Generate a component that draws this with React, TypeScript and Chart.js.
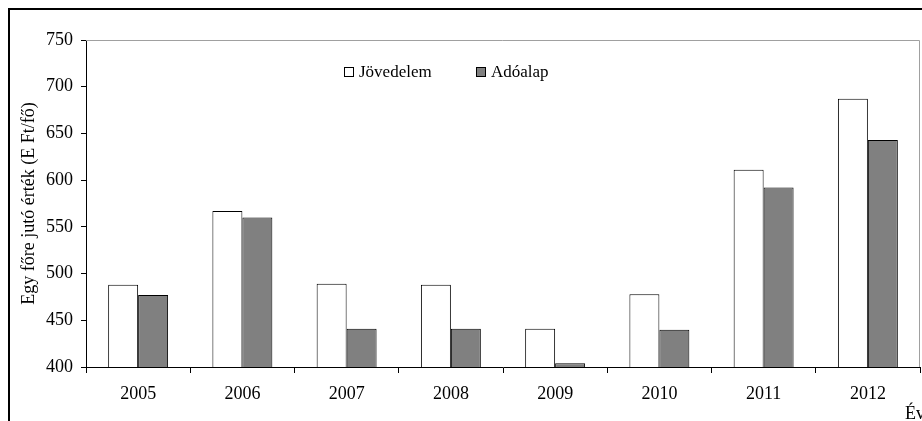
import React, { useEffect, useRef } from "react";
import { Chart, registerables } from "chart.js";

Chart.register(...registerables);

const years = ["2005", "2006", "2007", "2008", "2009", "2010", "2011", "2012"];
const jovedelem = [488, 567, 489, 488, 441, 478, 611, 687];
const adoalap = [477, 560, 441, 441, 404, 440, 592, 643];
const yTicks = [400, 450, 500, 550, 600, 650, 700, 750];
const seriesLabels = ["Jövedelem", "Adóalap"];
const yTitle = "Egy főre jutó érték (E Ft/fő)";
const xTitle = "Év";

const FONT = '"Liberation Serif", "Times New Roman", serif';

const decorPlugin = {
  id: "decor",
  afterDraw(chart: any) {
    const { ctx, chartArea } = chart;
    const { left, top, right, bottom } = chartArea;
    ctx.save();
    // plot border (top & right in gray)
    ctx.strokeStyle = "#a0a0a0";
    ctx.lineWidth = 1;
    ctx.beginPath();
    ctx.moveTo(left, top + 0.5);
    ctx.lineTo(right - 0.5, top + 0.5);
    ctx.lineTo(right - 0.5, bottom);
    ctx.stroke();

    // legend inside plot
    ctx.font = `17px ${FONT}`;
    ctx.textBaseline = "alphabetic";
    ctx.textAlign = "left";
    const offsets = [258, 390];
    chart.data.datasets.forEach((ds: any, i: number) => {
      const bx = left + offsets[i];
      const by = top + 27;
      ctx.fillStyle = ds.backgroundColor;
      ctx.fillRect(bx, by, 9, 9);
      ctx.strokeStyle = "#000";
      ctx.lineWidth = 1;
      ctx.strokeRect(bx + 0.5, by + 0.5, 9, 9);
      ctx.fillStyle = "#000";
      ctx.fillText(ds.label, bx + 15, by + 10);
    });

    // x axis title at right end
    ctx.font = `18px ${FONT}`;
    ctx.fillStyle = "#000";
    ctx.fillText(xTitle, right - 15, bottom + 52);
    ctx.restore();
  },
};

export default function App() {
  const ref = useRef<HTMLCanvasElement>(null);

  useEffect(() => {
    document.documentElement.style.overflow = "hidden";
    document.body.style.overflow = "hidden";
    document.body.style.margin = "0";
    if (!ref.current) return;
    const chart = new Chart(ref.current, {
      type: "bar",
      data: {
        labels: years,
        datasets: [
          {
            label: seriesLabels[0],
            data: jovedelem,
            backgroundColor: "#ffffff",
            borderColor: "#000000",
            borderWidth: 1,
          },
          {
            label: seriesLabels[1],
            data: adoalap,
            backgroundColor: "#808080",
            borderColor: "#000000",
            borderWidth: 1,
          },
        ],
      },
      options: {
        responsive: false,
        animation: false,
        events: [],
        datasets: {
          bar: { categoryPercentage: 0.575, barPercentage: 1 },
        },
        layout: { padding: { top: 30, right: 2, left: 0, bottom: 0 } },
        plugins: {
          legend: { display: false },
          tooltip: { enabled: false },
          title: { display: false },
        },
        scales: {
          x: {
            grid: {
              offset: true,
              drawOnChartArea: false,
              tickLength: 6,
              color: "#000",
            },
            border: { color: "#000", width: 1 },
            ticks: {
              color: "#000",
              font: { family: FONT, size: 18 },
              padding: 10,
              maxRotation: 0,
            },
            afterFit(scale: any) {
              scale.height = 54;
            },
          },
          y: {
            min: 400,
            max: 750,
            afterBuildTicks(scale: any) {
              scale.ticks = yTicks.map((v) => ({ value: v }));
            },
            grid: {
              drawOnChartArea: false,
              tickLength: 5,
              color: "#000",
            },
            border: { color: "#000", width: 1 },
            ticks: {
              color: "#000",
              font: { family: FONT, size: 18 },
              padding: 8,
            },
            title: {
              display: true,
              text: yTitle,
              color: "#000",
              font: { family: FONT, size: 18 },
              padding: { top: 8, bottom: 0 },
            },
            afterFit(scale: any) {
              scale.width = 76;
            },
          },
        },
      },
      plugins: [decorPlugin],
    });
    return () => chart.destroy();
  }, []);

  return (
    <div style={{ width: 922, height: 421, boxSizing: "border-box", padding: "8px 0 0 8px", overflow: "hidden" }}>
      <div
        style={{
          borderTop: "2px solid #000",
          borderLeft: "2px solid #000",
          width: 912,
          height: 411,
          overflow: "hidden",
        }}
      >
        <canvas ref={ref} width={912} height={411} style={{ display: "block" }} />
      </div>
    </div>
  );
}
